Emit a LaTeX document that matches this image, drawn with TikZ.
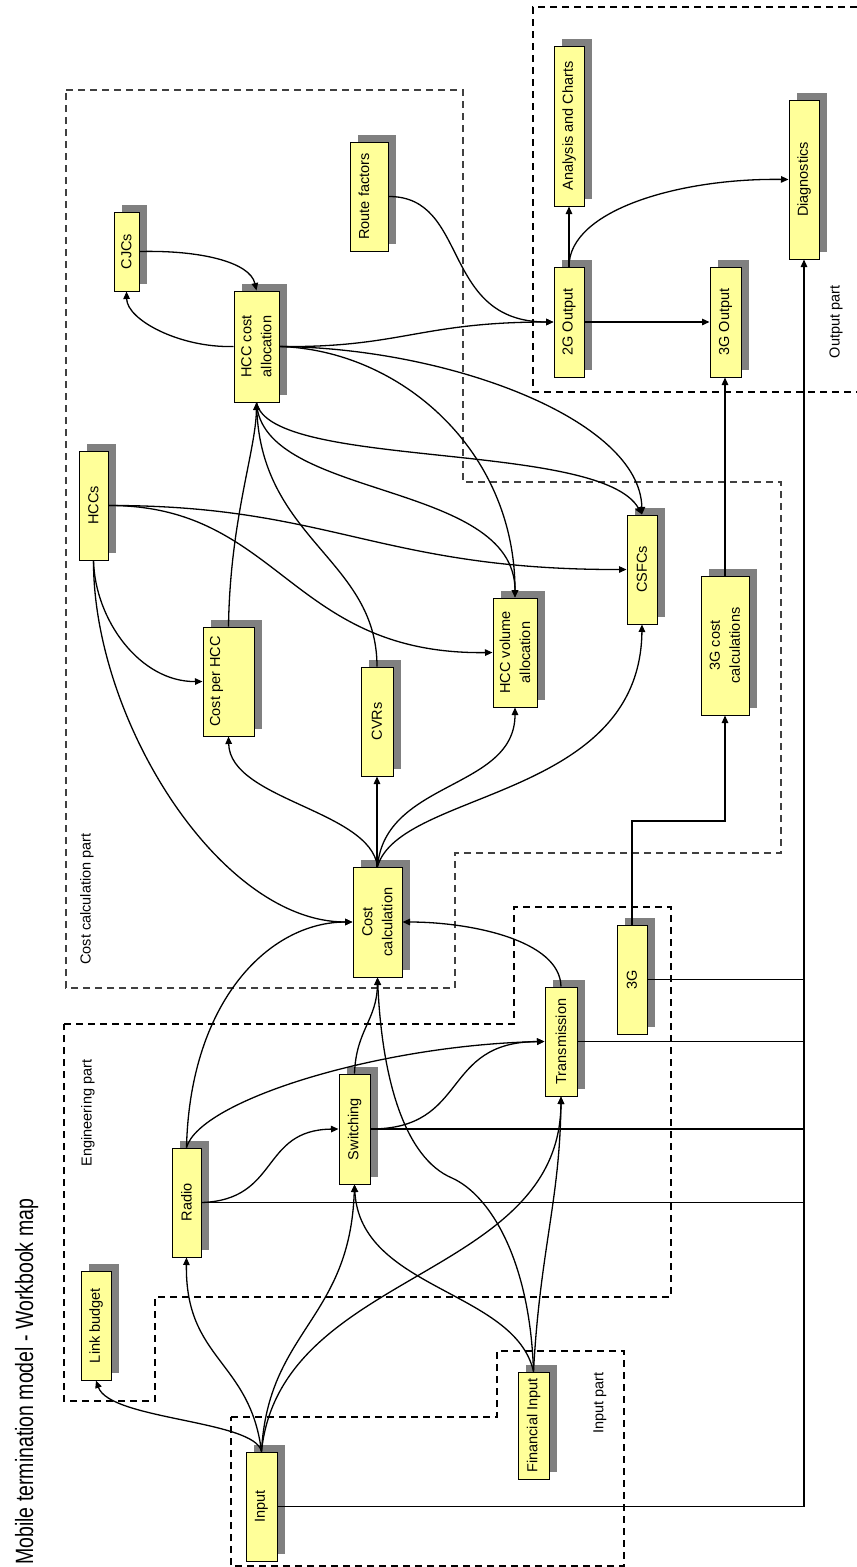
\documentclass[tikz,border=0pt]{standalone}
\usepackage{graphicx}
\usepackage{fontspec}
\setmainfont{Liberation Sans}
\usetikzlibrary{arrows.meta,shadows,calc}
\definecolor{boxyellow}{RGB}{255,255,153}
\definecolor{shadowgray}{RGB}{128,128,128}
\tikzset{
  box/.style={draw=black, line width=1pt, fill=boxyellow, inner sep=0pt,
    drop shadow={shadow xshift=8pt, shadow yshift=7pt, fill=shadowgray, opacity=1}},
  lbl/.style={rotate=90, inner sep=0pt, font=\fontsize{14.5}{20}\selectfont, align=center},
  conn/.style={line width=1.3pt, -{Triangle[length=7.5pt,width=6.5pt]}},
  wire/.style={line width=1.2pt},
  grp/.style={dash pattern=on 7pt off 5pt, line width=1.1pt},
  grpc/.style={dash pattern=on 7pt off 5pt, line width=1.4pt, draw=black!75},
}
\newcommand{\wbox}[7]{%
  \node[box, minimum width=#4pt, minimum height=#5pt] (#1) at (#2,#3) {};
  \node[lbl, yshift=#7pt] (#1-t) at (#1.center) {#6};}
\begin{document}
\begin{tikzpicture}[x=1pt,y=-1pt]
\fill[white] (0,0) rectangle (857,1567);
\useasboundingbox (0,0) rectangle (857,1567);

% title
\node[rotate=90, anchor=base west, inner sep=0pt] (title) at (33,1565)
  {\scalebox{0.78}[1]{\fontsize{25}{25}\selectfont Mobile termination model - Workbook map}};

% group outlines
\draw[grp] (857,7) -- (533,7) -- (533,392) -- (857,392);
\draw[grpc] (66,90) -- (463,90) -- (463,482) -- (781,482) -- (781,853) -- (455,853) -- (455,988) -- (66,988) -- cycle;
\draw[grp] (64,1024) -- (514,1024) -- (514,907) -- (671,907) -- (671,1297) -- (155,1297) -- (155,1401) -- (64,1401) -- cycle;
\draw[grp] (231,1417) -- (497,1417) -- (497,1351) -- (624,1351) -- (624,1566) -- (231,1566) -- cycle;

\node[lbl] (outpart) at (836,322) {Output part};
\node[lbl] (costpart) at (87,899) {Cost calculation part};
\node[lbl] (engpart) at (88,1113) {Engineering part};
\node[lbl] (inpart) at (600,1403) {Input part};

% boxes
\wbox{AC}{569}{126}{30}{160}{Analysis and Charts}{0}
\wbox{Diag}{804}{179.5}{30}{159}{Diagnostics}{0}
\wbox{RF}{369}{196.5}{38}{109}{Route factors}{5}
\wbox{CJC}{126.5}{251.5}{25}{79}{CJCs}{0}
\wbox{HCA}{256.5}{346.5}{45}{111}{HCC cost\\allocation}{0}
\wbox{O2}{569}{322}{30}{110}{2G Output}{0}
\wbox{O3}{725.5}{322}{31}{110}{3G Output}{0}
\wbox{HCC}{93.5}{505.5}{29}{109}{HCCs}{0}
\wbox{CSF}{642}{569.5}{30}{109}{CSFCs}{0}
\wbox{C3}{725}{645.5}{48}{139}{3G cost\\calculations}{0}
\wbox{CPH}{228.5}{681.5}{51}{109}{Cost per HCC}{12}
\wbox{HVA}{515}{652.5}{44}{109}{HCC volume\\allocation}{0}
\wbox{CVR}{377}{721.5}{32}{109}{CVRs}{0}
\wbox{CC}{377.5}{922}{49}{110}{Cost\\calculation}{0}
\wbox{G3}{632}{979.5}{30}{109}{3G}{0}
\wbox{TR}{561}{1041.5}{32}{109}{Transmission}{0}
\wbox{SW}{354.5}{1129}{31}{110}{Switching}{0}
\wbox{RA}{186.5}{1202.5}{29}{109}{Radio}{0}
\wbox{LB}{96}{1325.5}{30}{109}{Link budget}{0}
\wbox{FI}{533.5}{1425.5}{31}{107}{Financial Input}{0}
\wbox{IN}{261.5}{1506.5}{31}{109}{Input}{0}

% input edges
\draw[conn] (IN.north) .. controls (255,1420) and (110,1420) .. (LB.south);
\draw[conn] (IN.north) .. controls (250,1360) and (185,1360) .. (RA.south);
\draw[conn] (IN.north) .. controls (268,1330) and (350,1320) .. (SW.south);
\draw[conn] (IN.north) .. controls (280,1270) and (560,1280) .. (TR.south);

% bus to diagnostics
\draw[conn] (IN.east) -| (Diag.south);
\draw[wire] (RA.east) -- (RA.east -| Diag.south);
\draw[wire] (SW.east) -- (SW.east -| Diag.south);
\draw[wire] (TR.east) -- (TR.east -| Diag.south);
\draw[wire] (G3.east) -- (G3.east -| Diag.south);

% 3G chain
\coordinate (g3k) at (0,821);
\draw[conn] (G3.north) -- (G3.north |- g3k) -| (C3.south);
\draw[conn] (C3.north) -- (C3.north |- O3.south);

% output part
\draw[conn] (O2.east) -- (O3.west);
\draw[conn] (O2.north) -- (AC.south);
\draw[conn] (O2.north) .. controls (569,210) and (680,178) .. (Diag.west);
\draw[conn] (RF.east) .. controls (470,196) and (440,322) .. (O2.west);
\draw[conn] (HCA.east) .. controls (400,348) and (420,322) .. (O2.west);

% HCC cost allocation
\draw[conn] (CJC.east) .. controls (200,250) and (250,262) .. (HCA.north);
\draw[conn] (HCA.west) .. controls (180,348) and (127,320) .. (CJC.south);
\draw[conn] (HCA.east) .. controls (400,350) and (515,450) .. (HVA.north);
\draw[conn] (HCA.east) .. controls (450,348) and (640,420) .. (CSF.north);
\draw[conn] (CPH.north) .. controls (230,520) and (256,450) .. (HCA.south);
\draw[conn] (CVR.north) .. controls (377,560) and (262,540) .. (HCA.south);
\draw[conn] (HCA.south) .. controls (262,500) and (515,480) .. (HVA.north);
\draw[conn] (HCA.south) .. controls (270,470) and (600,440) .. (CSF.north);

% HCCs
\draw[conn] (HCC.east) .. controls (330,505) and (380,570) .. (CSF.west);
\draw[conn] (HCC.east) .. controls (280,505) and (290,655) .. (HVA.west);
\draw[conn] (HCC.south) .. controls (95,620) and (140,682) .. (CPH.west);
\draw[conn] (HCC.south) .. controls (93,720) and (220,922) .. (CC.west);

% into cost calculation
\draw[conn] (RA.north) .. controls (190,1000) and (270,922) .. (CC.west);
\draw[conn] (TR.north) .. controls (560,940) and (470,922) .. (CC.east);
\draw[conn] (SW.north) .. controls (356,1030) and (377,1020) .. (CC.south);
\draw[conn] (FI.north) .. controls (530,1260) and (490,1195) .. (452,1178) .. controls (405,1158) and (382,1080) .. (CC.south);

% financial input
\draw[conn] (FI.north) .. controls (515,1290) and (360,1290) .. (SW.south);
\draw[conn] (FI.north) .. controls (540,1250) and (560,1200) .. (TR.south);

% engineering
\draw[conn] (RA.north) .. controls (200,1100) and (380,1045) .. (TR.west);
\draw[conn] (RA.east) .. controls (280,1200) and (260,1130) .. (SW.west);
\draw[conn] (SW.east) .. controls (470,1129) and (440,1042) .. (TR.west);

% out of cost calculation
\draw[conn] (CC.north) .. controls (370,810) and (230,800) .. (CPH.south);
\draw[conn] (CC.north) -- (CC.north -| CVR.south) -- (CVR.south);
\draw[conn] (CC.north) .. controls (385,780) and (515,790) .. (HVA.south);
\draw[conn] (CC.north) .. controls (400,790) and (640,800) .. (CSF.south);
\end{tikzpicture}
\end{document}
